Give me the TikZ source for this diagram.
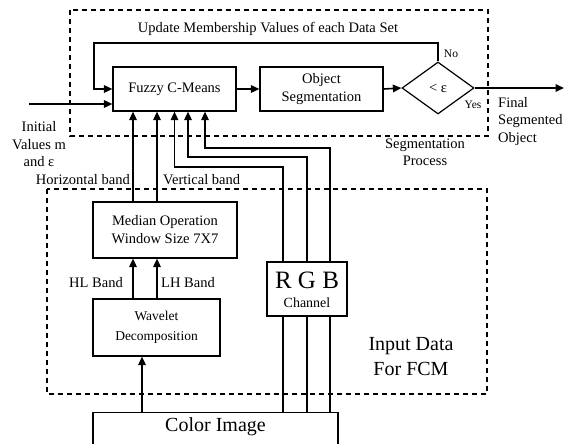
\documentclass[tikz,border=0pt]{standalone}
\usepackage{fontspec}
\setmainfont{Liberation Serif}
\usetikzlibrary{arrows.meta,shapes.geometric}
\begin{document}
\begin{tikzpicture}[x=1pt,y=-1pt,
  box/.style={draw, line width=1.2pt, inner sep=0pt, align=center, font=\fontsize{14.5}{18}\selectfont},
  conn/.style={line width=1.6pt},
  arr/.style={conn, -{Triangle[length=8.5pt,width=7.5pt]}},
  dbox/.style={draw, line width=1.2pt, dash pattern=on 5pt off 4pt},
  lbl/.style={inner sep=0pt, align=center, font=\fontsize{14.5}{17.5}\selectfont},
]
\useasboundingbox (0,0) rectangle (566,444);
% dashed frames
\draw[dbox] (70,10) rectangle (488,136);
\draw[dbox] (47,189) rectangle (487,394);
% blocks
\node[box, minimum width=123pt, minimum height=44pt] (fcm) at (174.5,89) {Fuzzy C-Means};
\node[box, minimum width=123pt, minimum height=44pt] (seg) at (321.5,89) {Object\\Segmentation};
\node[draw, diamond, line width=1.2pt, minimum width=72pt, minimum height=52pt, inner sep=0pt, font=\fontsize{14.5}{14}\selectfont] (dia) at (438,88) {< ε};
\node[box, minimum width=144pt, minimum height=56pt] (med) at (165,230) {Median Operation\\Window Size 7X7};
\node[box, minimum width=127pt, minimum height=57pt, font=\fontsize{13.5}{20}\selectfont] (wav) at (156.5,327.5) {Wavelet\\Decomposition};
\node[box, minimum width=80pt, minimum height=54pt] (rgb) at (307,289) {};
\node[lbl, font=\fontsize{25}{25}\selectfont] (rgbt) at (307,280) {R G B};
\node[lbl, font=\fontsize{14}{14}\selectfont] (cht) at (307,303) {Channel};
\node[draw, line width=1.2pt, minimum width=245pt, minimum height=60pt, inner sep=0pt, anchor=north] (col) at (215.5,412) {};
\node[lbl, font=\fontsize{20}{20}\selectfont] (colt) at (215.5,427) {Color Image};
% coordinates
\coordinate (fbA) at (94,43);
\coordinate (inA) at (29,104);
\coordinate (outA) at (564,88);
\coordinate (rR) at (283,167);
\coordinate (rG) at (307,157);
\coordinate (rB) at (330,148);
% connectors
\draw[arr] (fcm.east) -- (seg.west);
\draw[arr] (seg.east) -- (dia.west);
\draw[arr] (dia.north) |- (fbA) |- (fcm.west);
\draw[arr] (inA) -- (fcm.west |- inA);
\draw[arr] (dia.east) -- (outA);
\draw[arr] ([xshift=-32pt]med.north) -- ([xshift=-41.5pt]fcm.south);
\draw[arr] ([xshift=-8pt]med.north) -- ([xshift=-17.5pt]fcm.south);
\draw[arr] ([xshift=-23.5pt]wav.north) -- ([xshift=-32pt]med.south);
\draw[arr] ([xshift=0.5pt]wav.north) -- ([xshift=-8pt]med.south);
\draw[arr] ([xshift=-73.5pt]col.north) -- ([xshift=-14.5pt]wav.south);
\draw[arr] ([xshift=-24pt]rgb.north) -- (rR) -| (fcm.south);
\draw[arr] (rgb.north) -- (rG) -| ([xshift=13.5pt]fcm.south);
\draw[arr] ([xshift=23pt]rgb.north) -- (rB) -| ([xshift=30.5pt]fcm.south);
\draw[conn] ([xshift=-24pt]rgb.south) -- ([xshift=67.5pt]col.north);
\draw[conn] (rgb.south) -- ([xshift=91.5pt]col.north);
\draw[conn] ([xshift=23pt]rgb.south) -- ([xshift=114.5pt]col.north);
% labels
\node[lbl] (upd) at (268,29) {Update Membership Values of each Data Set};
\node[lbl, font=\fontsize{11.5}{12}\selectfont] (no) at (451,54) {No};
\node[lbl, font=\fontsize{11.5}{12}\selectfont] (yes) at (473,105) {Yes};
\node[lbl, align=left, anchor=north west] (fin) at (498,97) {Final\\Segmented\\Object};
\node[lbl] (segp) at (425,152.5) {Segmentation\\Process};
\node[lbl] (init) at (39,144.5) {Initial\\Values m\\and ε};
\node[lbl, anchor=east] (hb) at (130,180) {Horizontal band};
\node[lbl, anchor=west] (vb) at (163,180) {Vertical band};
\node[lbl, anchor=east] (hl) at (123,283) {HL Band};
\node[lbl, anchor=west] (lh) at (161,283) {LH Band};
\node[lbl, font=\fontsize{20}{25}\selectfont] (inp) at (411,357) {Input Data\\For FCM};
\end{tikzpicture}
\end{document}
